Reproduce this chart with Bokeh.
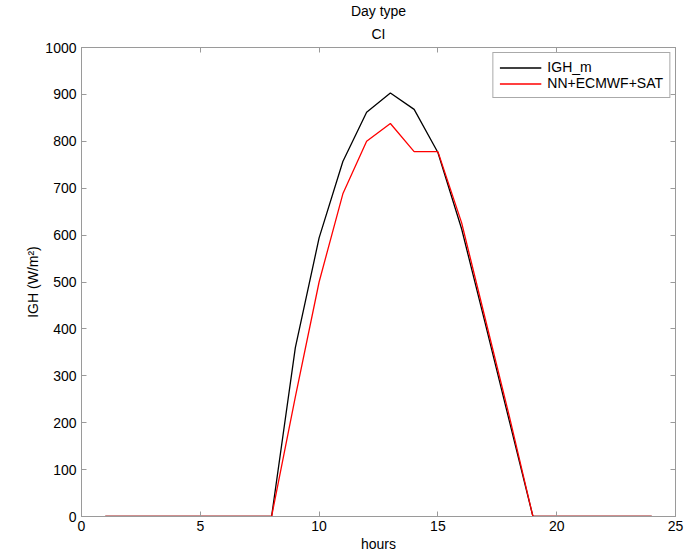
from bokeh.plotting import figure
from bokeh.models import (Range1d, LinearAxis, FixedTicker, CustomJSTickFormatter,
                          Legend, LegendItem, Title)
from bokeh.embed import file_html
from bokeh.resources import INLINE

hours = list(range(1, 25))
igh_m = [0, 0, 0, 0, 0, 0, 0, 0, 360, 594, 757, 862, 903, 868, 776, 613, 410, 205,
         0, 0, 0, 0, 0, 0]
nn_ecmwf_sat = [0, 0, 0, 0, 0, 0, 0, 0, 255, 500, 688, 800, 838, 778, 778, 626, 420, 215,
                0, 0, 0, 0, 0, 0]
x_ticks = [0, 5, 10, 15, 20, 25]
y_ticks = [0, 100, 200, 300, 400, 500, 600, 700, 800, 900, 1000]
title_lines = ["Day type", "CI"]

FONT = "Liberation Sans"
AXIS_COLOR = "#9a9a9a"

p = figure(width=686, height=553, output_backend="svg", toolbar_location=None,
           x_range=Range1d(0, 25), y_range=Range1d(0, 1000),
           min_border_left=81, min_border_right=11, min_border_top=0,
           min_border_bottom=37)
p.frame_width = 594
p.frame_height = 469
p.xgrid.visible = False
p.ygrid.visible = False
p.outline_line_color = AXIS_COLOR
p.background_fill_color = "white"
p.border_fill_color = "white"

bottom_ax = p.below[0]
left_ax = p.left[0]

def style_axis(ax, ticks, labels=True):
    ax.ticker = FixedTicker(ticks=ticks)
    ax.axis_line_color = AXIS_COLOR
    ax.major_tick_line_color = AXIS_COLOR
    ax.major_tick_in = 5
    ax.major_tick_out = 0
    ax.minor_tick_line_color = None
    ax.major_label_text_font = FONT
    ax.major_label_text_font_size = "14px"
    ax.major_label_text_color = "black"
    ax.axis_label_text_font = FONT
    ax.axis_label_text_font_size = "14px"
    ax.axis_label_text_font_style = "normal"
    ax.axis_label_text_color = "black"
    if not labels:
        ax.formatter = CustomJSTickFormatter(code="return ''")
        ax.major_label_standoff = 0

style_axis(bottom_ax, x_ticks)
style_axis(left_ax, y_ticks)
bottom_ax.axis_label = "hours"
bottom_ax.axis_label_standoff = 2
bottom_ax.major_label_standoff = 4
left_ax.axis_label = "IGH (W/m²)"
left_ax.axis_label_standoff = 1
left_ax.major_label_standoff = 5

top_ax = LinearAxis()
style_axis(top_ax, x_ticks, labels=False)
p.add_layout(top_ax, "above")
right_ax = LinearAxis()
style_axis(right_ax, y_ticks, labels=False)
p.add_layout(right_ax, "right")

p.title = Title(text=title_lines[0], align="center", text_font=FONT,
                text_font_size="14px", text_font_style="normal", text_color="black",
                standoff=0, offset=0)
p.add_layout(Title(text=title_lines[1], align="center", text_font=FONT,
                   text_font_size="14px", text_font_style="normal",
                   text_color="black", standoff=11), "above")

r1 = p.line(hours, igh_m, line_color="black", line_width=1.3)
r2 = p.line(hours, nn_ecmwf_sat, line_color="#ff0000", line_width=1.3)

legend = Legend(items=[LegendItem(label="IGH_m", renderers=[r1]),
                       LegendItem(label="NN+ECMWF+SAT", renderers=[r2])],
                location="top_right", margin=5, padding=6, spacing=0,
                glyph_width=42, glyph_height=15, label_height=15, label_standoff=6,
                label_text_font=FONT, label_text_font_size="14px",
                label_text_color="black", border_line_color="#555555",
                border_line_width=1, background_fill_color="white",
                background_fill_alpha=1.0)
p.add_layout(legend)

open("out.html", "w").write(file_html(p, INLINE))
